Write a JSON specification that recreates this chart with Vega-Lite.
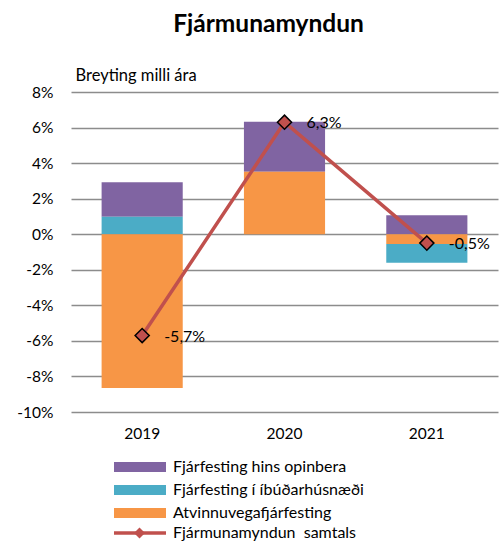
{
  "$schema": "https://vega.github.io/schema/vega-lite/v6.json",
  "width": 427,
  "height": 320,
  "autosize": {"type": "none"},
  "padding": {"left": 71, "top": 92, "right": 1, "bottom": 129},
  "background": "white",
  "title": {"text": "Fjármunamyndun", "font": "Lato", "fontSize": 24.5, "fontWeight": "bold", "color": "black", "anchor": "middle", "dx": -16, "offset": 30},
  "config": {
    "font": "Lato",
    "view": {"stroke": null},
    "locale": {"number": {"decimal": ",", "thousands": ".", "grouping": [3], "currency": ["", ""], "minus": "-"}}
  },
  "datasets": {
    "bars": [
      {"year": "2019", "series": "Fjárfesting hins opinbera", "value": 0.0195, "stackOrder": 3},
      {"year": "2019", "series": "Fjárfesting í íbúðarhúsnæði", "value": 0.0098, "stackOrder": 2},
      {"year": "2019", "series": "Atvinnuvegafjárfesting", "value": -0.0865, "stackOrder": 1},
      {"year": "2020", "series": "Fjárfesting hins opinbera", "value": 0.028, "stackOrder": 3},
      {"year": "2020", "series": "Fjárfesting í íbúðarhúsnæði", "value": 0.0, "stackOrder": 2},
      {"year": "2020", "series": "Atvinnuvegafjárfesting", "value": 0.0352, "stackOrder": 1},
      {"year": "2021", "series": "Fjárfesting hins opinbera", "value": 0.0107, "stackOrder": 3},
      {"year": "2021", "series": "Fjárfesting í íbúðarhúsnæði", "value": -0.0105, "stackOrder": 2},
      {"year": "2021", "series": "Atvinnuvegafjárfesting", "value": -0.0055, "stackOrder": 1}
    ],
    "total": [
      {"year": "2019", "total": -0.057},
      {"year": "2020", "total": 0.063},
      {"year": "2021", "total": -0.005}
    ]
  },
  "encoding": {
    "x": {
      "field": "year", "type": "ordinal",
      "scale": {"paddingInner": 0.43, "paddingOuter": 0.215},
      "axis": {"title": null, "labelAngle": 0, "domain": false, "ticks": false, "labelFontSize": 15.5, "labelPadding": 14, "labelColor": "black"}
    }
  },
  "layer": [
    {
      "data": {"name": "bars"},
      "mark": {"type": "bar"},
      "encoding": {
        "y": {
          "field": "value", "type": "quantitative", "stack": "zero",
          "scale": {"domain": [-0.1, 0.08], "nice": false},
          "axis": {
            "values": [-0.1, -0.08, -0.06, -0.04, -0.02, 0, 0.02, 0.04, 0.06, 0.08],
            "tickCount": 20,
            "format": ".0%", "grid": true, "gridColor": "#8c8c8c", "gridWidth": 1.5,
            "labelOverlap": false, "labelBound": false, "labelFlush": false,
            "domain": false, "ticks": false, "labelPadding": 18, "labelFontSize": 15.5, "labelColor": "black",
            "title": "Breyting milli ára", "titleAngle": 0, "titleX": 4, "titleY": -17,
            "titleAlign": "left", "titleBaseline": "middle", "titleFontSize": 16.5, "titleFontWeight": "normal", "titleColor": "black"
          }
        },
        "order": {"field": "stackOrder", "type": "quantitative"},
        "color": {
          "field": "series", "type": "nominal",
          "scale": {"domain": ["Fjárfesting hins opinbera", "Fjárfesting í íbúðarhúsnæði", "Atvinnuvegafjárfesting"], "range": ["#8064A2", "#4BACC6", "#F79646"]},
          "legend": {
            "orient": "none", "legendX": 61, "legendY": 367, "title": null,
            "symbolType": "M-5.2,-1H5.2V1H-5.2Z", "symbolSize": 100, "symbolStrokeWidth": 0,
            "labelFontSize": 16, "labelOffset": 25, "labelLimit": 400, "labelColor": "black", "rowPadding": 7
          }
        }
      }
    },
    {
      "data": {"name": "total"},
      "mark": {"type": "line", "strokeWidth": 3.5},
      "encoding": {
        "y": {"field": "total", "type": "quantitative"},
        "stroke": {
          "datum": "Fjármunamyndun\u00a0 samtals",
          "scale": {"range": ["#C0504D"]},
          "legend": {
            "orient": "none", "legendX": 61, "legendY": 433, "title": null,
            "symbolType": "M-5.2,0H5.2", "symbolSize": 100, "symbolStrokeWidth": 3.5,
            "labelFontSize": 16, "labelOffset": 25, "labelLimit": 400, "labelColor": "black"
          }
        }
      }
    },
    {
      "data": {"name": "total"},
      "mark": {"type": "point", "filled": true, "fill": "#C0504D", "stroke": "black", "strokeWidth": 1.5, "size": 200, "opacity": 1},
      "encoding": {
        "y": {"field": "total", "type": "quantitative"},
        "shape": {
          "datum": "Fjármunamyndun samtals diamond",
          "scale": {"range": ["diamond"]},
          "legend": {
            "orient": "none", "legendX": 60.5, "legendY": 433, "title": null,
            "symbolSize": 121, "symbolFillColor": "#C0504D", "symbolStrokeColor": "black", "symbolStrokeWidth": 1.5,
            "labelFontSize": 16, "labelOffset": 25, "labelLimit": 400, "labelExpr": "''"
          }
        }
      }
    },
    {
      "data": {"name": "total"},
      "mark": {"type": "text", "align": "left", "baseline": "middle", "dx": 22, "dy": 1, "fontSize": 16, "color": "black"},
      "encoding": {
        "y": {"field": "total", "type": "quantitative"},
        "text": {"field": "total", "type": "quantitative", "format": ".1%"}
      }
    }
  ]
}
